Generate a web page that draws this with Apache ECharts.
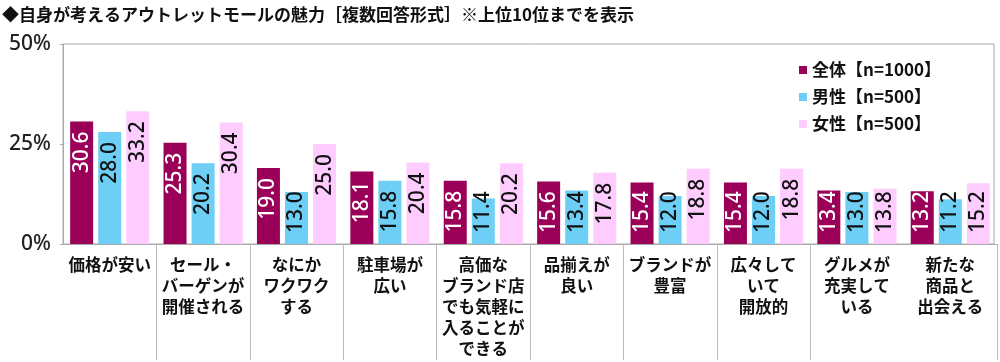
<!DOCTYPE html>
<html>
<head>
<meta charset="utf-8">
<script src="https://cdn.jsdelivr.net/npm/echarts@6/dist/echarts.min.js"></script>
<style>html,body{margin:0;padding:0;background:#fff}#c{width:1000px;height:362px}</style>
</head>
<body>
<div id="c"></div>
<script>
const titleText = '◆自身が考えるアウトレットモールの魅力［複数回答形式］※上位10位までを表示';
const categories = ['価格が安い', 'セール・\nバーゲンが\n開催される', 'なにか\nワクワク\nする', '駐車場が\n広い', '高価な\nブランド店\nでも気軽に\n入ることが\nできる', '品揃えが\n良い', 'ブランドが\n豊富', '広々して\nいて\n開放的', 'グルメが\n充実して\nいる', '新たな\n商品と\n出会える'];
const seriesNames = ['全体【n=1000】', '男性【n=500】', '女性【n=500】'];
const allValues = [30.6, 25.3, 19.0, 18.1, 15.8, 15.6, 15.4, 15.4, 13.4, 13.2];
const maleValues = [28.0, 20.2, 13.0, 15.8, 11.4, 13.4, 12.0, 12.0, 13.0, 11.2];
const femaleValues = [33.2, 30.4, 25.0, 20.4, 20.2, 17.8, 18.8, 18.8, 13.8, 15.2];
const yTicks = [0, 25, 50];

const FONT = '"Noto Sans CJK JP", "Noto Sans", sans-serif';
const NUMFONT = '"Noto Sans", "Noto Sans CJK JP", sans-serif';
const LABEL_SIZE = 21;
const colors = ['#9B0058', '#6DCFF6', '#FFCCFF'];
const labelColors = ['#ffffff', '#111111', '#111111'];
const valuesList = [allValues, maleValues, femaleValues];

function fmt(v) { return Number(v).toFixed(1); }

const chart = echarts.init(document.getElementById('c'), null, {renderer: 'canvas'});
const option = {
  animation: false,
  backgroundColor: '#ffffff',
  title: {
    text: titleText, left: 2, top: 6, padding: 0,
    textStyle: {fontFamily: FONT, fontSize: 17, fontWeight: 'bold', color: '#111'}
  },
  legend: {
    orient: 'vertical', left: 799, top: 61, padding: 0,
    itemWidth: 8, itemHeight: 8, itemGap: 9, icon: 'rect',
    textStyle: {fontFamily: FONT, fontSize: 17, fontWeight: 'bold', color: '#111', lineHeight: 18},
    data: seriesNames
  },
  grid: [
    {left: 63, right: 3, top: 44, bottom: 118, containLabel: false},
    {left: 63, right: 6, top: 44, bottom: 118, show: true, borderColor: '#aaaaaa', borderWidth: 1, backgroundColor: 'transparent'}
  ],
  xAxis: [
    {
      type: 'category', gridIndex: 0, data: categories,
      axisLine: {show: true, lineStyle: {color: '#aaaaaa', width: 1}},
      axisTick: {show: true, length: 116, lineStyle: {color: '#bbbbbb', width: 1},
        interval: function (idx) { return idx !== 0 && idx !== categories.length - 1; }},
      axisLabel: {interval: 0, margin: 10, fontFamily: FONT, fontSize: 16.5, fontWeight: 'bold', color: '#111', lineHeight: 21, align: 'center', verticalAlign: 'top'}
    },
    {type: 'value', gridIndex: 1, show: false}
  ],
  yAxis: [
    {
      type: 'value', gridIndex: 0, min: yTicks[0], max: yTicks[yTicks.length - 1], interval: yTicks[1] - yTicks[0],
      axisLine: {show: true, lineStyle: {color: '#aaaaaa', width: 1}},
      axisTick: {show: true, length: 3, lineStyle: {color: '#aaaaaa'}},
      splitLine: {show: false},
      axisLabel: {formatter: '{value}%', margin: 12, fontFamily: NUMFONT, fontSize: 21, fontWeight: 500, color: '#222'}
    },
    {type: 'value', gridIndex: 1, show: false}
  ],
  series: valuesList.map(function (vals, i) {
    return {
      name: seriesNames[i], type: 'bar', xAxisIndex: 0, yAxisIndex: 0,
      data: vals, barWidth: 23, barGap: '22%',
      itemStyle: {color: colors[i]},
      label: {
        show: true, position: 'insideTop', rotate: 90, align: 'right', verticalAlign: 'middle', distance: 10,
        fontFamily: NUMFONT, fontSize: LABEL_SIZE, fontWeight: 500, color: labelColors[i],
        formatter: function (p) { return fmt(p.value); }
      }
    };
  })
};
chart.setOption(option);

// Keep long labels clear of the axis on short bars (using the chart's own y scale).
const measureCtx = document.createElement('canvas').getContext('2d');
measureCtx.font = '500 ' + LABEL_SIZE + 'px "Noto Sans"';
const yZero = chart.convertToPixel({yAxisIndex: 0}, 0);
chart.setOption({
  series: valuesList.map(function (vals) {
    return {
      data: vals.map(function (v) {
        const barH = yZero - chart.convertToPixel({yAxisIndex: 0}, v);
        const textLen = measureCtx.measureText(fmt(v)).width;
        const dist = Math.min(10, barH - 11 - textLen);
        return {value: v, label: {distance: dist}};
      })
    };
  })
});
</script>
</body>
</html>
